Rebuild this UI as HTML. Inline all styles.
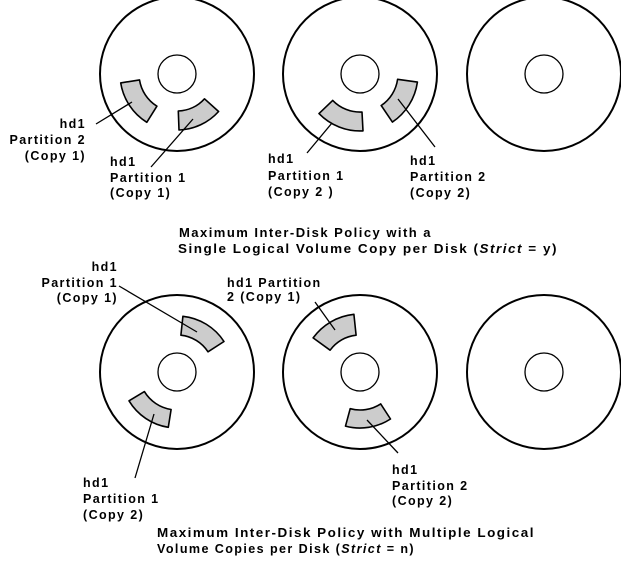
<!DOCTYPE html>
<html><head><meta charset="utf-8"><style>
html,body{margin:0;padding:0;background:#fff}
svg{display:block}
text{font-family:"Liberation Sans",Arial,sans-serif;font-weight:bold;font-size:12.5px;letter-spacing:1.4px;fill:#000}
</style></head><body>
<svg width="621" height="568" viewBox="0 0 621 568" xmlns="http://www.w3.org/2000/svg">
<g fill="none" stroke="#000" stroke-width="2">
<circle cx="177" cy="74" r="77"/><circle cx="360" cy="74" r="77"/><circle cx="544" cy="74" r="77"/>
<circle cx="177" cy="372" r="77"/><circle cx="360" cy="372" r="77"/><circle cx="544" cy="372" r="77"/>
</g>
<g fill="none" stroke="#000" stroke-width="1.3">
<circle cx="177" cy="74" r="19"/><circle cx="360" cy="74" r="19"/><circle cx="544" cy="74" r="19"/>
<circle cx="177" cy="372" r="19"/><circle cx="360" cy="372" r="19"/><circle cx="544" cy="372" r="19"/>
</g>
<g fill="#cccccc" stroke="#000" stroke-width="1.6" stroke-linejoin="round">
<path d="M146.8,122.3 A57,57 0 0 1 120.7,82.9 L139.5,79.9 A38,38 0 0 0 156.9,106.2 Z"/>
<path d="M218.6,111.5 A56,56 0 0 1 179,130 L178.3,111 A37,37 0 0 0 204.5,98.8 Z"/>
<path d="M363,130.9 A57,57 0 0 1 319,113.6 L332.7,100.4 A38,38 0 0 0 362,112 Z"/>
<path d="M417.4,82.1 A58,58 0 0 1 392.4,122.1 L381.2,105.5 A38,38 0 0 0 397.6,79.3 Z"/>
<path d="M182.9,316.3 A56,56 0 0 1 224,341.5 L208,351.8 A37,37 0 0 0 180.9,335.2 Z"/>
<path d="M168.3,427.3 A56,56 0 0 1 129,400.8 L144.4,391.6 A38,38 0 0 0 171.1,409.5 Z"/>
<path d="M313.1,337.9 A58,58 0 0 1 353.9,314.3 L356.1,335.2 A37,37 0 0 0 330.1,350.2 Z"/>
<path d="M390.5,419 A56,56 0 0 1 345.5,426.1 L350.2,408.7 A38,38 0 0 0 380.7,403.9 Z"/>
</g>
<g stroke="#000" stroke-width="1.3">
<line x1="96" y1="124" x2="132" y2="102"/>
<line x1="151" y1="167" x2="193" y2="119"/>
<line x1="307" y1="153" x2="332" y2="123"/>
<line x1="398" y1="99" x2="435" y2="147"/>
<line x1="119" y1="286" x2="197" y2="332"/>
<line x1="154" y1="414" x2="135" y2="478"/>
<line x1="315" y1="302" x2="335" y2="330"/>
<line x1="367" y1="420" x2="398" y2="453"/>
</g>
<g text-anchor="end">
<text x="86" y="128">hd1</text><text x="86" y="144">Partition 2</text><text x="86" y="160">(Copy 1)</text>
<text x="118" y="271">hd1</text><text x="118" y="287">Partition 1</text><text x="118" y="302">(Copy 1)</text>
</g>
<text x="110" y="166">hd1</text><text x="110" y="182">Partition 1</text><text x="110" y="197">(Copy 1)</text>
<text x="268" y="163">hd1</text><text x="268" y="180">Partition 1</text><text x="268" y="196">(Copy 2 )</text>
<text x="410" y="165">hd1</text><text x="410" y="181">Partition 2</text><text x="410" y="197">(Copy 2)</text>
<text x="227" y="287">hd1 Partition</text><text x="227" y="301">2 (Copy 1)</text>
<text x="83" y="487">hd1</text><text x="83" y="503">Partition 1</text><text x="83" y="519">(Copy 2)</text>
<text x="392" y="474">hd1</text><text x="392" y="490">Partition 2</text><text x="392" y="505">(Copy 2)</text>
<text x="179" y="237" textLength="253" lengthAdjust="spacingAndGlyphs">Maximum Inter-Disk Policy with a</text>
<text x="178" y="253" textLength="380" lengthAdjust="spacingAndGlyphs">Single Logical Volume Copy per Disk (<tspan font-style="italic">Strict</tspan> = y)</text>
<text x="157" y="537" textLength="378" lengthAdjust="spacingAndGlyphs">Maximum Inter-Disk Policy with Multiple Logical</text>
<text x="157" y="553" textLength="258" lengthAdjust="spacingAndGlyphs">Volume Copies per Disk (<tspan font-style="italic">Strict</tspan> = n)</text>
</svg>
</body></html>
